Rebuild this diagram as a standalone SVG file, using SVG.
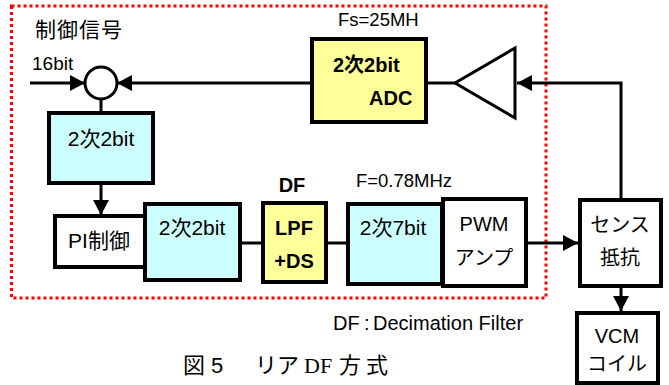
<svg xmlns="http://www.w3.org/2000/svg" width="669" height="385" viewBox="0 0 669 385">
<style>
text{font-family:"Liberation Sans","Noto Sans CJK JP",sans-serif;font-size:21px;fill:#000}
.b{font-weight:bold}
.s18{font-size:18.5px}
.s19{font-size:19px}
.s20{font-size:20px}
.s22{font-size:22px}
.serif{font-family:"Liberation Serif","Noto Serif CJK JP",serif}
.box{stroke:#000;stroke-width:4}
.cy{fill:#CCFFFF}
.ye{fill:#FFFF99}
.wh{fill:#fff}
.ln{stroke:#000;stroke-width:3;fill:none}
.ar{marker-end:url(#ah)}
.m{text-anchor:middle}
</style>
<defs>
<marker id="ah" markerUnits="userSpaceOnUse" markerWidth="15" markerHeight="16" refX="15" refY="8" orient="auto">
<path d="M0,0 L15,8 L0,16 z" fill="#000"/>
</marker>
</defs>
<rect x="11.5" y="6" width="534.5" height="292" fill="none" stroke="#f00" stroke-width="3" stroke-dasharray="3 3"/>
<g id="labels">
<text x="35" y="37" letter-spacing="1">制御信号</text>
<text class="s19" x="32" y="70">16bit</text>
<text class="s18" x="338" y="26">Fs=25MH</text>
<text class="b m s20" x="292" y="192">DF</text>
<text class="m s18" x="404" y="187">F=0.78MHz</text>
<text class="s20" x="333" y="330">DF<tspan x="364">:</tspan><tspan x="373">Decimation Filter</tspan></text>
<text class="s22" x="183" y="373">図</text>
<text class="s22" x="211" y="373">5</text>
<text class="s22" x="255" y="373">リア</text>
<text class="s22 serif" x="304" y="373">DF</text>
<text class="s22" x="339" y="373" letter-spacing="5">方式</text>
</g>
<g id="connectors">
<line class="ln ar" x1="30" y1="83" x2="85" y2="83"/>
<line class="ln ar" x1="312" y1="83" x2="117" y2="83"/>
<line class="ln" x1="101" y1="99" x2="101" y2="113"/>
<line class="ln ar" x1="101" y1="183" x2="101" y2="215"/>
<line class="ln" x1="240" y1="243" x2="262" y2="243"/>
<line class="ln" x1="326" y1="243" x2="347" y2="243"/>
<line class="ln ar" x1="526" y1="243" x2="578" y2="243"/>
<polyline class="ln ar" points="621,199 621,83 517,83"/>
<line class="ln" x1="455" y1="83" x2="426" y2="83"/>
<line class="ln ar" x1="621" y1="286" x2="621" y2="311"/>
</g>
<g id="sum">
<circle cx="101" cy="83" r="16" fill="#fff" stroke="#000" stroke-width="3"/>
</g>
<g id="amp">
<polygon points="455,83 515,48 515,118" fill="#fff" stroke="#000" stroke-width="3"/>
</g>
<g id="adc">
<rect class="box ye" x="312" y="39" width="114" height="83"/>
<text class="b s20" x="333" y="72">2次2bit</text>
<text class="b s20" x="369" y="105">ADC</text>
</g>
<g id="filter1">
<rect class="box cy" x="49" y="113" width="104" height="70"/>
<text class="m" x="101" y="146">2次2bit</text>
</g>
<g id="pi">
<rect class="box wh" x="55" y="216" width="90" height="51"/>
<text class="m" x="99" y="248">PI制御</text>
</g>
<g id="filter2">
<rect class="box cy" x="145" y="204" width="95" height="76"/>
<text class="m" x="192" y="235">2次2bit</text>
</g>
<g id="df">
<rect class="box ye" x="263" y="203" width="63" height="79"/>
<text class="b m s20" x="294" y="235">LPF</text>
<text class="b m s20" x="294" y="268">+DS</text>
</g>
<g id="filter3">
<rect class="box cy" x="348" y="204" width="94" height="80"/>
<text class="m" x="393" y="235">2次7bit</text>
</g>
<g id="pwm">
<rect class="box wh" x="443" y="199" width="83" height="87"/>
<text class="m s20" x="484" y="231">PWM</text>
<text class="m s20" x="484" y="265">アンプ</text>
</g>
<g id="sense">
<rect class="box wh" x="580" y="200" width="81" height="86"/>
<text class="m s20" x="620" y="232">センス</text>
<text class="m s20" x="620" y="265">抵抗</text>
</g>
<g id="vcm">
<rect class="box wh" x="577" y="313" width="81" height="70"/>
<text class="m s20" x="617" y="343">VCM</text>
<text class="m s20" x="617" y="371">コイル</text>
</g>
</svg>
